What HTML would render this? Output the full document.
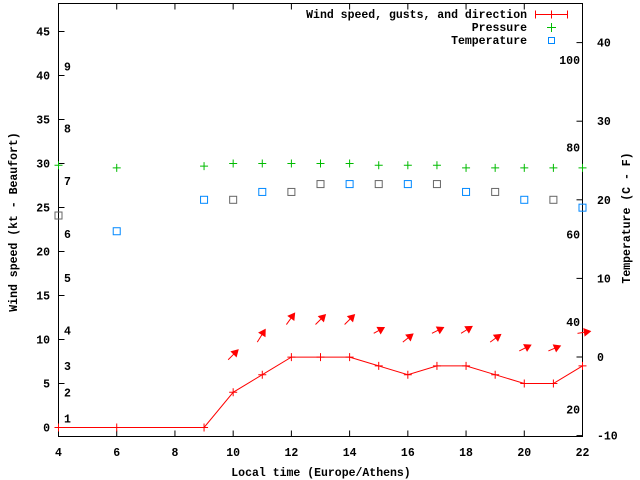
<!DOCTYPE html>
<html><head><meta charset="utf-8"><style>
html,body{margin:0;padding:0;background:#fff}
svg{display:block}
text{font-family:"Liberation Mono",monospace;font-weight:bold;font-size:11.5px;fill:#000}
</style></head><body>
<svg id="chart" width="640" height="480" viewBox="0 0 640 480" xmlns="http://www.w3.org/2000/svg">
<g id="axes"></g>
<g id="marks"></g>
<g id="legend">
<text x="527" y="18" text-anchor="end">Wind speed, gusts, and direction</text>
<path d="M535.5 14.5H567.5M535.5 10.5V18.5M567.5 10.5V18.5M551.5 10.5V18.5" stroke="#f00" fill="none"/>
<text x="527" y="31" text-anchor="end">Pressure</text>
<path d="M547 27.5H556M551.5 23V32" stroke="#0b0" fill="none"/>
<text x="527" y="44" text-anchor="end">Temperature</text>
<rect x="548.5" y="37.5" width="6" height="6" stroke="#08f" fill="none"/>
</g>
<text x="321" y="476" text-anchor="middle">Local time (Europe/Athens)</text>
<text transform="translate(17,222) rotate(-90)" text-anchor="middle">Wind speed (kt - Beaufort)</text>
<text transform="translate(630,218) rotate(-90)" text-anchor="middle">Temperature (C - F)</text>
</svg>
<script>
const hours=[4,6,9,10,11,12,13,14,15,16,17,18,19,20,21,22];
const windKt=[0,0,0,4,6,8,8,8,7,6,7,7,6,5,5,7];
const presHours=[4,6,9,10,11,12,13,14,15,16,17,18,19,20,21,22];
const pressure=[29.8,29.5,29.7,30,30,30,30,30,29.8,29.8,29.8,29.5,29.5,29.5,29.5,29.5];
const tempHours=[4,6,9,10,11,12,13,14,15,16,17,18,19,20,21,22];
const tempC=[18,16,20,20,21,21,22,22,22,22,22,21,21,20,20,19];
const tempColor=['#666','#08f','#08f','#666','#08f','#666','#666','#08f','#666','#08f','#666','#08f','#666','#08f','#666','#08f'];
const arrowHours=[10,11,12,13,14,15,16,17,18,19,20,21,22];
const arrowWind=[4,6,8,8,8,7,6,7,7,6,5,5,7];
const arrowAngle=[45,58,54,45,45,29,39,27,32,36,27,23,9];
const arrowLen=[14,15,14,14,14,12,13,13,13,13,13,13,13];
const xTicks=[4,6,8,10,12,14,16,18,20,22];
const yTicks=[0,5,10,15,20,25,30,35,40,45];
const y2Ticks=[-10,0,10,20,30,40];
const fTicks=[20,40,60,80,100];
const beaufortLabels=['1','2','3','4','5','6','7','8','9'];
const beaufortKt=[1,4,7,11,17,22,28,34,41];

const L=58.5,R=582.5,T=3.5,B=436.5;
const X=h=>L+(h-4)/(22-4)*(R-L);
const Y=v=>427.5-v*8.8;
const Y2=c=>357-c*7.86;
const NS='http://www.w3.org/2000/svg';
function mk(tag,attrs,parent){const e=document.createElementNS(NS,tag);for(const k in attrs)e.setAttribute(k,attrs[k]);parent.appendChild(e);return e;}
const ax=document.getElementById('axes'),mg=document.getElementById('marks');

let border=mk('rect',{x:L,y:T,width:R-L,height:B-T,fill:'none',stroke:'#000'},ax);


xTicks.forEach(h=>{
 let p=mk('path',{d:`M${X(h)} ${B}v-6M${X(h)} ${T}v6`,stroke:'#000'},ax);
 
 
 let t=mk('text',{x:X(h),y:456,'text-anchor':'middle'},ax);t.textContent=h;
 
 
});
yTicks.forEach(v=>{
 let p=mk('path',{d:`M${L} ${Y(v)}h6`,stroke:'#000'},ax);
 
 
 let t=mk('text',{x:50,y:Y(v)+4,'text-anchor':'end'},ax);t.textContent=v;
 
 
});
y2Ticks.forEach(c=>{
 let p=mk('path',{d:`M${R} ${Y2(c)}h-6`,stroke:'#000'},ax);
 
 
 let t=mk('text',{x:597,y:Y2(c)+4},ax);t.textContent=c;
 
 
});
fTicks.forEach(f=>{
 let t=mk('text',{x:580,y:Y2((f-32)*5/9)+4,'text-anchor':'end'},ax);t.textContent=f;
 
 
});
beaufortLabels.forEach((b,i)=>{
 let t=mk('text',{x:64,y:Y(beaufortKt[i])+4},ax);t.textContent=b;
 
 
});

// wind line
let pts=hours.map((h,i)=>`${X(h)},${Y(windKt[i])}`).join(' ');
let wl=mk('polyline',{points:pts,fill:'none',stroke:'#f00'},mg);


hours.forEach((h,i)=>{
 let p=mk('path',{d:`M${X(h)-4} ${Y(windKt[i])}h8M${X(h)} ${Y(windKt[i])-4}v8`,stroke:'#f00'},mg);
 
 
});
presHours.forEach((h,i)=>{
 let x=X(h),y=Y(pressure[i]);
 let p=mk('path',{d:`M${x-4} ${y}h8M${x} ${y-4}v8`,stroke:'#0b0'},mg);
 
 
});
tempHours.forEach((h,i)=>{
 let x=X(h),y=Y2(tempC[i]);
 let r=mk('rect',{x:x-3.5,y:y-3.5,width:7,height:7,fill:'none',stroke:tempColor[i]},mg);
 
 
});
arrowHours.forEach((h,i)=>{
 const x0=X(h)-5,y0=Y(arrowWind[i]+3.7);
 const a=arrowAngle[i]*Math.PI/180,len=arrowLen[i];
 const ux=Math.cos(a),uy=-Math.sin(a);
 const x1=x0+ux*len,y1=y0+uy*len;
 const hl=6,hw=3.5;
 const bx=x1-ux*hl,by=y1-uy*hl;
 const g=mk('g',{},mg);
 
 
 mk('line',{x1:x0,y1:y0,x2:bx,y2:by,stroke:'#f00'},g);
 mk('polygon',{points:`${x1},${y1} ${bx-uy*hw},${by+ux*hw} ${bx+uy*hw},${by-ux*hw}`,fill:'#f00',stroke:'#f00'},g);
});
</script>
</body></html>
